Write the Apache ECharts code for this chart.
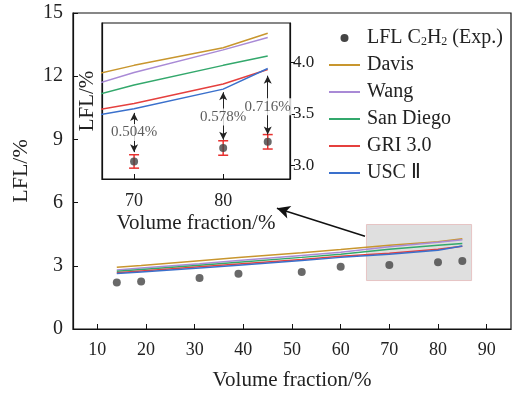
<!DOCTYPE html>
<html>
<head>
<meta charset="utf-8">
<script src="https://cdn.jsdelivr.net/npm/echarts@6/dist/echarts.min.js"></script>
<style>
  html, body { margin: 0; padding: 0; background: #fff; }
  #chart { width: 515px; height: 396px; }
</style>
</head>
<body>
<div id="chart"></div>
<script>
  // volume fraction of C2H2 (%)
  const volFraction = [14, 19, 31, 39, 52, 60, 70, 80, 85]
  const expLFL = [2.21, 2.25, 2.42, 2.62, 2.70, 2.95, 3.04, 3.17, 3.23]
  const davis = [2.93, 3.02, 3.24, 3.39, 3.62, 3.77, 3.97, 4.14, 4.28]
  const wang = [2.80, 2.89, 3.10, 3.25, 3.49, 3.64, 3.90, 4.12, 4.24]
  const sanDiego = [2.74, 2.83, 3.03, 3.17, 3.40, 3.55, 3.78, 3.97, 4.06]
  const gri = [2.67, 2.75, 2.95, 3.08, 3.30, 3.45, 3.60, 3.79, 3.93]
  const usc = [2.63, 2.71, 2.90, 3.03, 3.25, 3.40, 3.55, 3.74, 3.94]

  // zoomed part
  const insetX = [70, 80, 85]
  const insetErr = [0.065, 0.07, 0.07]
  const gapText = ['0.504%', '0.578%', '0.716%']
  const gapTextY = [3.32, 3.47, 3.57]
  const arrowTop = [3.51, 3.71, 3.87]
  const arrowBottom = [3.13, 3.25, 3.30]

  const mainXTicks = [10, 20, 30, 40, 50, 60, 70, 80, 90]
  const insetXTicks = [70, 80]
  const insetYTicks = [3.0, 3.5, 4.0]

  const modelNames = ['Davis', 'Wang', 'San Diego', 'GRI 3.0', 'USC Ⅱ']
  const modelData = [davis, wang, sanDiego, gri, usc]
  const modelColors = ['#c8962e', '#a98ad6', '#33a86c', '#e5403e', '#3a70cc']
  const expName = 'LFL C2H2 (Exp.)'

  const font = 'Liberation Serif'
  const txt = (size, extra) => Object.assign({fontFamily: font, fontSize: size, color: '#222'}, extra || {})
  const pair = (xs, ys) => xs.map((x, i) => [x, ys[i]])
  const insetExp = insetX.map(x => expLFL[volFraction.indexOf(x)])

  function lineSeries(axis, width) {
    return modelNames.map((name, i) => ({
      name: name,
      type: 'line',
      xAxisIndex: axis,
      yAxisIndex: axis,
      symbol: 'none',
      clip: true,
      z: 3,
      lineStyle: {color: modelColors[i], width: width},
      itemStyle: {color: modelColors[i]},
      data: pair(volFraction, modelData[i])
    }))
  }

  function renderErr(params, api) {
    const x = api.value(0)
    const lo = api.coord([x, api.value(1)])
    const hi = api.coord([x, api.value(2)])
    const w = 5
    const style = {stroke: '#e8312f', lineWidth: 1.5}
    return {
      type: 'group',
      children: [
        {type: 'line', shape: {x1: lo[0], y1: lo[1], x2: hi[0], y2: hi[1]}, style: style},
        {type: 'line', shape: {x1: lo[0] - w, y1: lo[1], x2: lo[0] + w, y2: lo[1]}, style: style},
        {type: 'line', shape: {x1: hi[0] - w, y1: hi[1], x2: hi[0] + w, y2: hi[1]}, style: style}
      ]
    }
  }

  const chart = echarts.init(document.getElementById('chart'))
  const option = {
    animation: false,
    backgroundColor: '#fff',
    textStyle: {fontFamily: font, color: '#222'},
    grid: [
      {left: 73, top: 13, right: 4, bottom: 66, show: true, borderColor: '#111', borderWidth: 1.2, backgroundColor: '#fff'},
      {left: 102, top: 23, width: 188, height: 156, show: true, borderColor: '#111', borderWidth: 1.2, backgroundColor: '#fff'}
    ],
    legend: {
      orient: 'vertical',
      left: 328,
      top: 27,
      padding: 0,
      itemWidth: 31,
      itemHeight: 8,
      itemGap: 7,
      itemStyle: {opacity: 0},
      data: [{name: expName, icon: 'circle', itemStyle: {opacity: 1, color: '#444'}}]
        .concat(modelNames.map(n => ({name: n}))),
      formatter: name => name === expName ? 'LFL C{sub|2}H{sub|2} (Exp.)' : name,
      textStyle: txt(20, {
        lineHeight: 20,
        padding: [0, 0, 0, 2],
        rich: {sub: txt(12, {lineHeight: 20, verticalAlign: 'bottom', padding: [9, 0, 0, 0]})}
      })
    },
    xAxis: [
      {
        gridIndex: 0, type: 'value', min: 5, max: 95,
        name: 'Volume fraction/%', nameLocation: 'middle', nameGap: 41,
        nameTextStyle: txt(21),
        axisLine: {lineStyle: {color: '#111', width: 1.2}},
        axisTick: {inside: true, length: 5, customValues: mainXTicks, lineStyle: {color: '#111'}},
        axisLabel: txt(18, {margin: 12, customValues: mainXTicks}),
        splitLine: {show: false}
      },
      {
        gridIndex: 1, type: 'value', min: 66.4, max: 87.5,
        name: 'Volume fraction/%', nameLocation: 'middle', nameGap: 34,
        nameTextStyle: txt(21),
        axisLine: {lineStyle: {color: '#111', width: 1.2}},
        axisTick: {inside: true, length: 5, customValues: insetXTicks, lineStyle: {color: '#111'}},
        axisLabel: txt(18, {margin: 13, customValues: insetXTicks}),
        splitLine: {show: false}
      }
    ],
    yAxis: [
      {
        gridIndex: 0, type: 'value', min: 0, max: 15, interval: 3,
        name: 'LFL/%', nameLocation: 'middle', nameGap: 40,
        nameTextStyle: txt(22),
        axisLine: {show: true, lineStyle: {color: '#111', width: 1.2}},
        axisTick: {inside: true, length: 5, lineStyle: {color: '#111'}},
        axisLabel: txt(20, {margin: 10}),
        splitLine: {show: false}
      },
      {
        gridIndex: 1, type: 'value', min: 2.87, max: 4.38, position: 'right',
        axisLine: {show: true, lineStyle: {color: '#111', width: 1.2}},
        axisTick: {length: 5, customValues: insetYTicks, lineStyle: {color: '#111'}},
        axisLabel: txt(17, {margin: 3, customValues: insetYTicks, formatter: v => v.toFixed(1)}),
        splitLine: {show: false}
      },
      {
        gridIndex: 1, type: 'value', min: 2.87, max: 4.38, position: 'left',
        name: 'LFL/%', nameLocation: 'middle', nameGap: 4,
        nameTextStyle: txt(21),
        axisLine: {show: true, lineStyle: {color: '#111', width: 1.2}},
        axisTick: {show: false},
        axisLabel: {show: false},
        splitLine: {show: false}
      }
    ],
    series: [
      ...lineSeries(0, 1.5),
      {
        name: expName,
        type: 'scatter',
        xAxisIndex: 0,
        yAxisIndex: 0,
        symbolSize: 8,
        z: 4,
        itemStyle: {color: '#444'},
        data: pair(volFraction, expLFL),
        markArea: {
          silent: true,
          itemStyle: {color: '#dfdfdf', borderColor: '#e6c4c4', borderWidth: 1},
          data: [[{coord: [65.3, 2.3]}, {coord: [86.9, 4.96]}]]
        },
        markLine: {
          silent: true,
          symbol: ['none', 'arrow'],
          symbolSize: [10, 13],
          label: {show: false},
          lineStyle: {color: '#111', width: 1.5, type: 'solid'},
          data: [[{coord: [65.0, 4.40]}, {coord: [46.9, 5.73]}]]
        }
      },
      ...lineSeries(1, 1.5),
      {
        name: 'err',
        type: 'custom',
        xAxisIndex: 1,
        yAxisIndex: 1,
        z: 4,
        renderItem: renderErr,
        encode: {x: 0, y: [1, 2]},
        data: insetX.map((x, i) => [x, insetExp[i] - insetErr[i], insetExp[i] + insetErr[i]]),
        markLine: {
          silent: true,
          symbol: ['arrow', 'arrow'],
          symbolSize: [6, 8],
          label: {show: false},
          lineStyle: {color: '#222', width: 1, type: 'solid'},
          data: insetX.map((x, i) => [{coord: [x, arrowTop[i]]}, {coord: [x, arrowBottom[i]]}])
        }
      },
      {
        name: expName,
        type: 'scatter',
        xAxisIndex: 1,
        yAxisIndex: 1,
        symbolSize: 8,
        z: 5,
        itemStyle: {color: '#444'},
        data: pair(insetX, insetExp)
      },
      {
        name: 'gap',
        type: 'scatter',
        xAxisIndex: 1,
        yAxisIndex: 1,
        symbolSize: 0,
        z: 6,
        label: txt(15, {
          show: true,
          position: 'inside',
          color: '#333',
          backgroundColor: '#fff',
          padding: [1, 1],
          formatter: p => p.data[2]
        }),
        data: insetX.map((x, i) => [x, gapTextY[i], gapText[i]])
      }
    ]
  }
  chart.setOption(option)
</script>
</body>
</html>
